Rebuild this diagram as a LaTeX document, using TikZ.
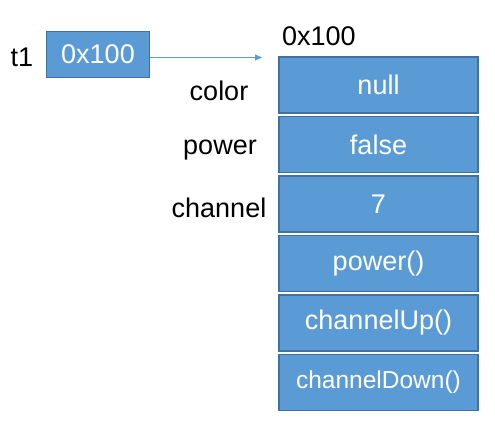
\documentclass[tikz,border=0pt]{standalone}
\usepackage{fontspec}
\setmainfont{Liberation Sans}
\usetikzlibrary{arrows.meta}
\definecolor{boxfill}{HTML}{5B9BD5}
\definecolor{boxline}{HTML}{41719C}
\begin{document}
\begin{tikzpicture}[x=1pt,y=-1pt,
  cell/.style={draw=boxline,line width=1.5pt,fill=boxfill,text=white,minimum width=199pt,minimum height=56pt,inner sep=0pt,font=\fontsize{27}{30}\selectfont},
  ptr/.style={draw=boxline,line width=1.5pt,fill=boxfill,text=white,minimum width=103pt,minimum height=46pt,inner sep=0pt,font=\fontsize{27}{30}\selectfont},
  lbl/.style={text=black,inner sep=0pt,font=\fontsize{27}{30}\selectfont},
  link/.style={draw=boxfill,line width=0.8pt,-{Triangle[length=7pt,width=6pt]}}
]
\useasboundingbox (0,0) rectangle (495,429);
\node[lbl] (t1) at (22,57) {t1};
\node[ptr] (p) at (98,54.5) {0x100};
\node[lbl,anchor=base west] (addr) at (282,45) {0x100};
\node[cell] (c1) at (378.5,85) {null};
\node[cell] (c2) at (378.5,144.5) {false};
\node[cell] (c3) at (378.5,204) {7};
\node[cell] (c4) at (378.5,263.5) {power()};
\node[cell] (c5) at (378.5,323) {channelUp()};
\node[cell,font=\fontsize{24.5}{28}\selectfont] (c6) at (378.5,382.5) {channelDown()};
\node[lbl] (lcolor) at (219,91) {color};
\node[lbl] (lpower) at (220,150) {power};
\node[lbl] (lchannel) at (219,208) {channel};
\coordinate (tip) at (262,57.5);
\draw[link] (p.east |- tip) -- (tip);
\end{tikzpicture}
\end{document}
